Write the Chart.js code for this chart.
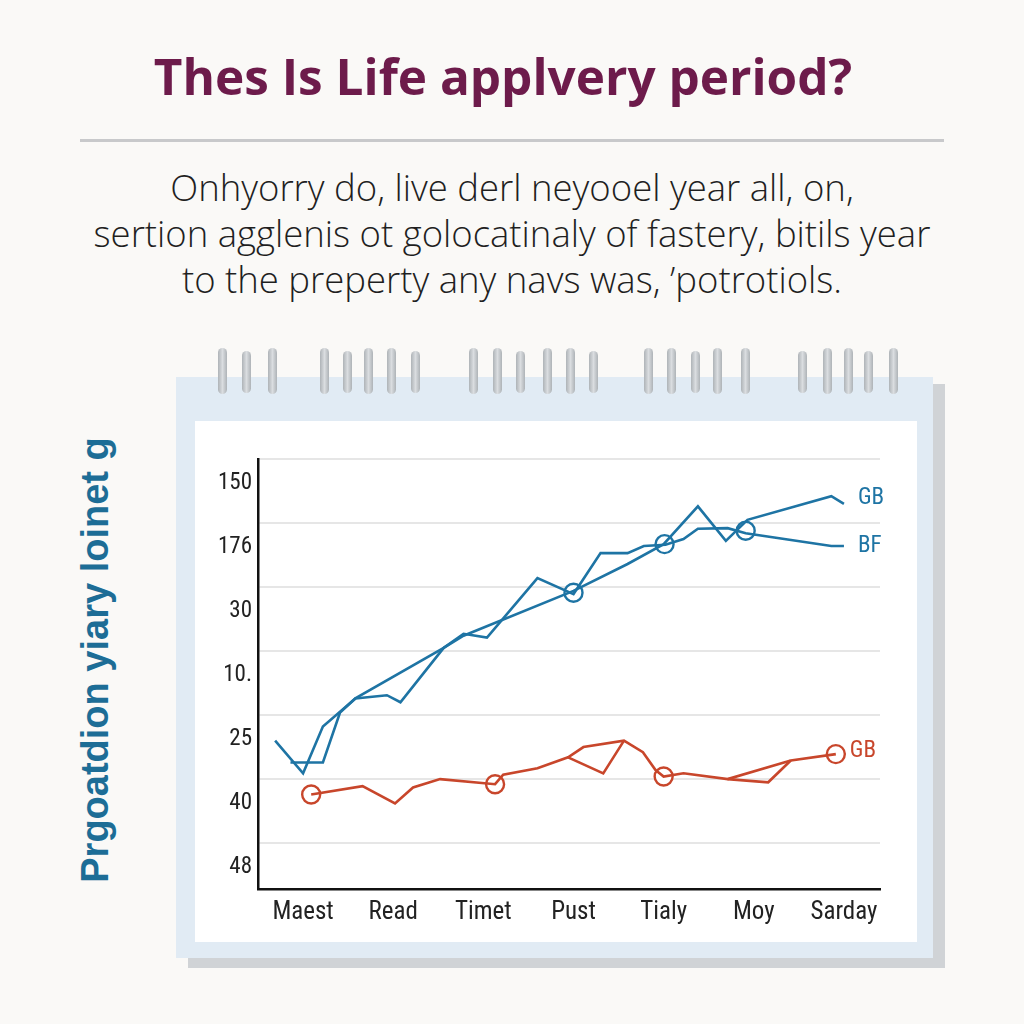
<!DOCTYPE html>
<html>
<head>
<meta charset="utf-8">
<script src="https://cdn.jsdelivr.net/npm/chart.js@4.4.1/dist/chart.umd.min.js"></script>
<style>
  html, body { margin: 0; padding: 0; }
  body { width: 1024px; height: 1024px; position: relative; overflow: hidden; background: #faf9f7; }
  .title { position: absolute; left: 0; width: 1006px; top: 46px; text-align: center;
    font-family: "Open Sans", sans-serif; font-weight: 700; font-size: 49.5px; color: #6d1b4b; line-height: 60px; }
  .rule { position: absolute; left: 80px; top: 139px; width: 864px; height: 3px; background: #c8c9cb; }
  .subtitle { position: absolute; left: 0; width: 1024px; top: 164px; text-align: center;
    font-family: "Open Sans", sans-serif; font-weight: 300; font-size: 36.5px; line-height: 46px; color: #1f1f1f; }
  .shadow { position: absolute; left: 188px; top: 384px; width: 757px; height: 584px; background: #d0d3d6; }
  .card { position: absolute; left: 176px; top: 377px; width: 757px; height: 581px; background: #e1ebf4; }
  .panel { position: absolute; left: 195px; top: 421px; width: 722px; height: 521px; background: #fff; }
  .ring { position: absolute; top: 348px; width: 9px; height: 46px; border-radius: 4.5px;
    background: linear-gradient(to right, #aeb3b7, #dadde0 50%, #aeb3b7); }
  .ytitle { position: absolute; left: -155px; top: 638px; width: 500px; height: 44px; text-align: center;
    transform: rotate(-90deg); font-family: "Liberation Sans", Arial, sans-serif; font-weight: 700;
    font-size: 38px; line-height: 44px; color: #1d6d96; white-space: nowrap; }
  #chart { position: absolute; left: 0; top: 0; }
</style>
</head>
<body>
<div class="title">Thes Is Life applvery period?</div>
<div class="rule"></div>
<div class="subtitle">Onhyorry do, live derl neyooel year all, on,<br>sertion agglenis ot golocatinaly of fastery, bitils year<br>to the preperty any navs was, ’potrotiols.</div>
<div class="shadow"></div>
<div class="card"></div>
<div class="panel"></div>
<div id="rings"></div>
<div class="ytitle">Prgoatdion yiary loinet g</div>
<canvas id="chart" width="1024" height="1024"></canvas>

<script>
// categories and tick labels as printed on the chart
const xLabels = ["Maest", "Read", "Timet", "Pust", "Tialy", "Moy", "Sarday"];
const yLabels = ["150", "176", "30", "10.", "25", "40", "48"]; // top to bottom

// series values (x = category position, y = band position)
const blueGB = [
  {x: -0.31, y: 2.60}, {x: 0.00, y: 2.09}, {x: 0.22, y: 2.82}, {x: 0.58, y: 3.26},
  {x: 0.93, y: 3.31}, {x: 1.08, y: 3.20}, {x: 1.56, y: 4.05}, {x: 1.78, y: 4.24},
  {x: 3.00, y: 4.94}, {x: 3.60, y: 5.36}, {x: 4.00, y: 5.67}, {x: 4.38, y: 6.26},
  {x: 4.69, y: 5.72}, {x: 4.93, y: 6.05}, {x: 5.86, y: 6.42}, {x: 6.00, y: 6.30}
];
const blueBF = [
  {x: -0.14, y: 2.26}, {x: 0.22, y: 2.26}, {x: 0.41, y: 3.04}, {x: 0.58, y: 3.26},
  {x: 1.56, y: 4.05}, {x: 1.78, y: 4.27}, {x: 2.04, y: 4.21}, {x: 2.60, y: 5.14},
  {x: 3.00, y: 4.89}, {x: 3.30, y: 5.53}, {x: 3.60, y: 5.53}, {x: 3.78, y: 5.64},
  {x: 4.02, y: 5.66}, {x: 4.22, y: 5.75}, {x: 4.38, y: 5.91}, {x: 4.71, y: 5.92},
  {x: 4.91, y: 5.84}, {x: 5.86, y: 5.64}, {x: 6.00, y: 5.64}
];
const redGB = [
  {x: 0.09, y: 1.76}, {x: 0.66, y: 1.89}, {x: 1.02, y: 1.62}, {x: 1.22, y: 1.87},
  {x: 1.52, y: 2.00}, {x: 2.13, y: 1.92}, {x: 2.22, y: 2.07}, {x: 2.60, y: 2.17},
  {x: 2.94, y: 2.34}, {x: 3.11, y: 2.50}, {x: 3.56, y: 2.60}, {x: 3.77, y: 2.42},
  {x: 3.91, y: 2.14}, {x: 4.00, y: 2.04}, {x: 4.22, y: 2.09}, {x: 4.71, y: 2.00},
  {x: 5.41, y: 2.29}, {x: 5.91, y: 2.39}
];
const redAlt = [
  {x: 2.94, y: 2.34}, {x: 3.33, y: 2.09}, {x: 3.56, y: 2.60}, {x: 4.1, y: null},
  {x: 4.71, y: 2.00}, {x: 5.16, y: 1.95}, {x: 5.41, y: 2.29}
];
const blueRings = [{x: 3.00, y: 4.91}, {x: 4.01, y: 5.67}, {x: 4.91, y: 5.88}];
const redRings = [{x: 0.09, y: 1.76}, {x: 2.13, y: 1.92}, {x: 4.00, y: 2.04}, {x: 5.91, y: 2.39}];

// tick positions on the band axis
const gridTicks = [1, 2, 3, 4, 5, 6, 7];
const labelTicks = [0.62, 1.62, 2.62, 3.62, 4.62, 5.62, 6.62];

const BLUE = "#1e74a4";
const RED = "#c8462b";
const tickFamily = "'Liberation Sans Narrow', 'Roboto Condensed', Roboto, sans-serif";

// spiral binding
const ringX = [222, 246, 272, 324, 347, 368, 391, 415, 473, 497, 520, 547, 570, 593,
  648, 671, 695, 717, 745, 802, 827, 848, 868, 893];
const ringsBox = document.getElementById("rings");
ringX.forEach((x, i) => {
  const r = document.createElement("div");
  r.className = "ring";
  r.style.left = (x - 4) + "px";
  if (i % 3 === 1) { r.style.top = "351px"; r.style.height = "42px"; }
  ringsBox.appendChild(r);
});

// names at the end of each line
const endLabels = {
  id: "endLabels",
  afterDatasetsDraw(chart) {
    const ctx = chart.ctx;
    ctx.save();
    ctx.font = "23px " + tickFamily;
    ctx.textBaseline = "middle";
    ctx.textAlign = "left";
    chart.data.datasets.forEach((ds) => {
      if (!ds.endLabel) return;
      const last = ds.data[ds.data.length - 1];
      const px = chart.scales.x.getPixelForValue(last.x);
      const py = chart.scales.y.getPixelForValue(last.y);
      ctx.fillStyle = ds.borderColor;
      ctx.fillText(ds.endLabel, px + 14, py + (ds.labelShift || 0));
    });
    ctx.restore();
  }
};

const lineStyle = { borderWidth: 2.6, pointRadius: 0, tension: 0, fill: false, spanGaps: false };

new Chart(document.getElementById("chart"), {
  type: "line",
  data: {
    datasets: [
      { ...lineStyle, data: blueGB, borderColor: BLUE, endLabel: "GB", labelShift: -6 },
      { ...lineStyle, data: blueBF, borderColor: BLUE, endLabel: "BF" },
      { ...lineStyle, data: redGB, borderColor: RED, endLabel: "GB", labelShift: -3 },
      { ...lineStyle, data: redAlt, borderColor: RED },
      { type: "scatter", data: blueRings, borderColor: BLUE, backgroundColor: "#fff",
        pointRadius: 9, borderWidth: 2.4 },
      { type: "scatter", data: redRings, borderColor: RED, backgroundColor: "#fff",
        pointRadius: 9, borderWidth: 2.4 }
    ]
  },
  options: {
    responsive: false,
    animation: false,
    layout: { padding: { left: 208, top: 459, right: 144, bottom: 95 } },
    plugins: { legend: { display: false }, tooltip: { enabled: false } },
    scales: {
      x: {
        type: "linear", min: -0.5, max: 6.4,
        afterBuildTicks: (s) => { s.ticks = xLabels.map((_, i) => ({ value: i })); },
        afterFit: (s) => { s.height = 40; },
        ticks: { callback: (v) => xLabels[v], font: { family: tickFamily, size: 25 }, color: "#222", padding: 9, maxRotation: 0 },
        grid: { display: false, drawTicks: false },
        border: { color: "#111", width: 2.5 }
      },
      y: {
        type: "linear", min: 0.283, max: 7, weight: 0,
        afterBuildTicks: (s) => { s.ticks = gridTicks.map(v => ({ value: v })); },
        afterFit: (s) => { s.width = 0; },
        ticks: { display: false },
        grid: { color: "#e6e6e6", lineWidth: 2, drawTicks: false },
        border: { color: "#111", width: 2.5 }
      },
      yLab: {
        type: "linear", position: "left", min: 0.283, max: 7, weight: 1,
        afterBuildTicks: (s) => { s.ticks = labelTicks.map(v => ({ value: v })); },
        afterFit: (s) => { s.width = 50; },
        ticks: { callback: (v, i) => yLabels[yLabels.length - 1 - i], font: { family: tickFamily, size: 23 }, color: "#222", padding: 6 },
        grid: { display: false, drawTicks: false },
        border: { display: false }
      }
    }
  },
  plugins: [endLabels]
});
</script>
</body>
</html>
